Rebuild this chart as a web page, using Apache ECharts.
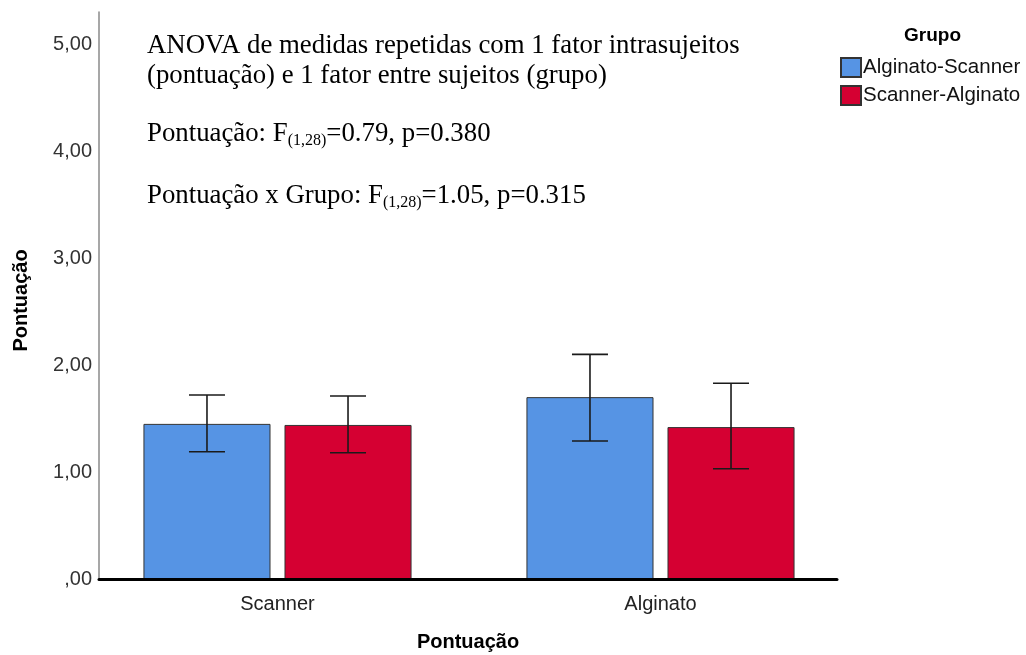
<!DOCTYPE html>
<html>
<head>
<meta charset="utf-8">
<script src="https://cdn.jsdelivr.net/npm/echarts@6/dist/echarts.min.js"></script>
<style>
html,body{margin:0;padding:0;background:#fff;}
#chart{width:1026px;height:655px;}
</style>
</head>
<body>
<div id="chart"></div>
<script>
// ---- data ----
var categories = ['Scanner', 'Alginato'];
var seriesNames = ['Alginato-Scanner', 'Scanner-Alginato'];
var meansAlgScan = [1.45, 1.70];
var meansScanAlg = [1.44, 1.42];
var lowAlgScan = [1.19, 1.29];
var highAlgScan = [1.72, 2.10];
var lowScanAlg = [1.18, 1.03];
var highScanAlg = [1.71, 1.83];
var yTicks = [0, 1, 2, 3, 4, 5];
var annotationLines = [
  'ANOVA de medidas repetidas com 1 fator intrasujeitos',
  '(pontuação) e 1 fator entre sujeitos (grupo)'
];
var statLines = [
  ['Pontuação: F', '(1,28)', '=0.79, p=0.380'],
  ['Pontuação x Grupo: F', '(1,28)', '=1.05, p=0.315']
];

// ---- style constants ----
var CAT_GAP = 0.30, BAR_GAP = 0.11;
var BLUE = '#5694e4', RED = '#d50032';
var SANS = '"Liberation Sans", Arial, sans-serif';
var SERIF = '"Liberation Serif", "Times New Roman", serif';

var errData = [];
for (var i = 0; i < categories.length; i++) {
  errData.push([i, lowAlgScan[i], highAlgScan[i], 0]);
  errData.push([i, lowScanAlg[i], highScanAlg[i], 1]);
}

function fmt(v) {
  var s = v.toFixed(2).replace('.', ',');
  if (s.indexOf('0,') === 0) s = s.substring(1);
  return s;
}

var chart = echarts.init(document.getElementById('chart'), null, {renderer: 'canvas'});

var graphics = [];
annotationLines.forEach(function (t, k) {
  graphics.push({
    type: 'text', left: 147, top: 32 + k * 30, z: 10,
    style: {text: t, font: '26.8px ' + SERIF, fill: '#000'}
  });
});
statLines.forEach(function (p, k) {
  graphics.push({
    type: 'text', left: 147, top: 120 + k * 62, z: 10,
    style: {
      text: '{m|' + p[0] + '}{s|' + p[1] + '}{m|' + p[2] + '}',
      rich: {
        m: {fontFamily: SERIF, fontSize: 26.8, lineHeight: 30, fill: '#000', color: '#000'},
        s: {fontFamily: SERIF, fontSize: 16, lineHeight: 16, verticalAlign: 'bottom', fill: '#000', color: '#000'}
      }
    }
  });
});

var option = {
  animation: false,
  backgroundColor: '#fff',
  title: {
    text: 'Grupo', left: 899, top: 21,
    textStyle: {fontFamily: SANS, fontSize: 19, fontWeight: 'bold', color: '#000'}
  },
  legend: {
    orient: 'vertical', left: 840, top: 57, padding: 0,
    itemWidth: 20, itemHeight: 19, itemGap: 7,
    icon: 'rect',
    data: seriesNames,
    textStyle: {fontFamily: SANS, fontSize: 20.5, color: '#111', padding: [0, 0, 0, -3]}
  },
  grid: [
    {left: 86, right: 174, top: 12, bottom: 76, outerBoundsMode: 'none', containLabel: false},
    {left: 99, right: 189, top: 12, bottom: 76, outerBoundsMode: 'none', containLabel: false}
  ],
  xAxis: [
    {
      type: 'category', gridIndex: 0, data: categories,
      axisLine: {show: false}, axisTick: {show: false},
      axisLabel: {fontFamily: SANS, fontSize: 20, color: '#222', margin: 15}
    },
    {
      type: 'value', gridIndex: 1, min: 0, max: 1, z: 5,
      axisLine: {show: true, lineStyle: {color: '#000', width: 3}},
      axisTick: {show: false}, axisLabel: {show: false}, splitLine: {show: false},
      name: 'Pontuação', nameLocation: 'middle', nameGap: 53,
      nameTextStyle: {fontFamily: SANS, fontSize: 20, fontWeight: 'bold', color: '#000'}
    }
  ],
  yAxis: [
    {type: 'value', gridIndex: 0, min: 0, max: 5.3, show: false},
    {
      type: 'value', gridIndex: 1, min: 0, max: 5.3, interval: 1, z: 4,
      axisLine: {show: true, lineStyle: {color: '#8a8a8a', width: 1.5}},
      axisTick: {show: false}, splitLine: {show: false},
      axisLabel: {
        fontFamily: SANS, fontSize: 20, color: '#333', margin: 7,
        padding: [7, 0, 0, 0],
        showMaxLabel: false,
        formatter: function (v) { return yTicks.indexOf(v) >= 0 ? fmt(v) : ''; }
      },
      name: 'Pontuação', nameLocation: 'middle', nameGap: 68,
      nameTextStyle: {fontFamily: SANS, fontSize: 20, fontWeight: 'bold', color: '#000', padding: [0, 10, 0, 0]}
    }
  ],
  series: [
    {
      name: seriesNames[0], type: 'bar', xAxisIndex: 0, yAxisIndex: 0,
      data: meansAlgScan, barCategoryGap: (CAT_GAP * 100) + '%', barGap: (BAR_GAP * 100) + '%',
      itemStyle: {color: BLUE, borderColor: '#333', borderWidth: 1}
    },
    {
      name: seriesNames[1], type: 'bar', xAxisIndex: 0, yAxisIndex: 0,
      data: meansScanAlg, barCategoryGap: (CAT_GAP * 100) + '%', barGap: (BAR_GAP * 100) + '%',
      itemStyle: {color: RED, borderColor: '#333', borderWidth: 1}
    },
    {
      type: 'custom', xAxisIndex: 0, yAxisIndex: 0, z: 6,
      data: errData,
      encode: {x: 0, y: [1, 2]},
      renderItem: function (params, api) {
        var ci = api.value(0), lo = api.value(1), hi = api.value(2), si = api.value(3);
        var band = api.size([1, 0])[0];
        var groupW = band * (1 - CAT_GAP);
        var w = groupW / (2 + BAR_GAP);
        var cx = api.coord([ci, 0])[0] - groupW / 2 + w / 2 + si * w * (1 + BAR_GAP);
        var yLo = api.coord([ci, lo])[1], yHi = api.coord([ci, hi])[1];
        var cap = 18;
        var st = {stroke: '#1a1a1a', lineWidth: 1.6};
        return {
          type: 'group',
          children: [
            {type: 'line', shape: {x1: cx, y1: yLo, x2: cx, y2: yHi}, style: st},
            {type: 'line', shape: {x1: cx - cap, y1: yHi, x2: cx + cap, y2: yHi}, style: st},
            {type: 'line', shape: {x1: cx - cap, y1: yLo, x2: cx + cap, y2: yLo}, style: st}
          ]
        };
      }
    }
  ],
  graphic: graphics
};
chart.setOption(option);
</script>
</body>
</html>
